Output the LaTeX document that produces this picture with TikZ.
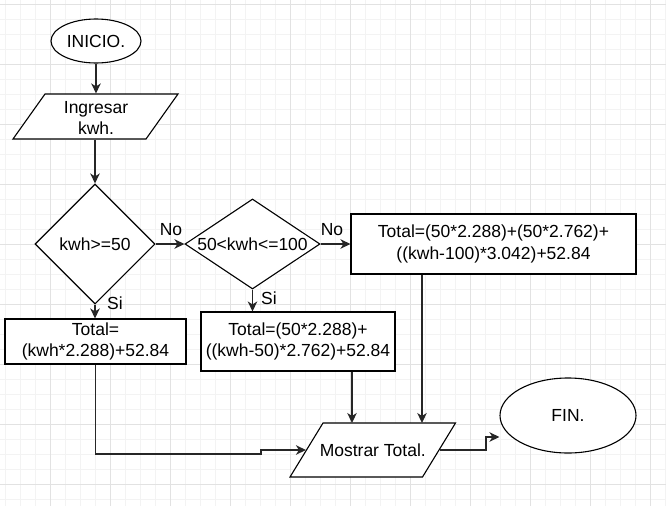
\documentclass[tikz,border=0pt]{standalone}
\usepackage{fontspec}
\setmainfont{Liberation Sans}
\usepackage{tikz}
\usetikzlibrary{calc,arrows.meta,positioning,shapes.geometric}
\definecolor{gridmajor}{RGB}{226,226,226}
\definecolor{gridminor}{RGB}{243,243,243}
\definecolor{flowline}{RGB}{38,38,38}
\newcommand{\flowfont}{\fontsize{17.5}{21.5}\selectfont}
\tikzset{
  fterm/.style ={ellipse, draw=black, fill=white, line width=1.1pt, inner sep=0pt, font=\flowfont},
  fio/.style   ={rectangle, draw=black, fill=white, line width=1.1pt, inner sep=0pt,
                 xslant=#1, transform shape},
  fiotext/.style={inner sep=0pt, font=\flowfont, align=center},
  fdec/.style  ={diamond, draw=black, fill=white, line width=1.1pt, inner sep=0pt, font=\flowfont},
  fproc/.style ={rectangle, draw=black, fill=white, line width=1.1pt, inner sep=2pt,
                 font=\flowfont, align=center},
  fline/.style ={-{Stealth[length=10pt, width=9.5pt, inset=3pt]}, line width=1.3pt, flowline},
  flabel/.style={font=\flowfont, inner sep=0pt},
}
\begin{document}
\begin{tikzpicture}[x=1pt, y=-1pt]
  \useasboundingbox (0,0) rectangle (666,506);
  % grid paper
  \foreach \gx in {5,20,...,665} \draw[gridminor, line width=0.8pt] (\gx,0) -- (\gx,506);
  \foreach \gy in {4,19,...,506} \draw[gridminor, line width=0.8pt] (0,\gy) -- (666,\gy);
  \foreach \gx in {50,110,...,650} \draw[gridmajor, line width=0.9pt] (\gx,0) -- (\gx,506);
  \foreach \gy in {4,64,...,484} \draw[gridmajor, line width=0.9pt] (0,\gy) -- (666,\gy);

  \node[fterm, minimum width=90, minimum height=44] (ini) at (96,41) {INICIO.};
  \node[fio=0.711, minimum width=133, minimum height=45] (ing) at (95.5,116.5) {};
  \node[fiotext] (ingt) at (96,118) {Ingresar\\ kwh.};
  \node[fdec, minimum width=120, minimum height=120] (d1) at (95,244) {kwh>=50};
  \node[fdec, aspect=1.5, minimum width=135, minimum height=90] (d2) at (252.5,244) {50<kwh<=100};
  \node[fproc, minimum width=181, minimum height=45] (b1) at (95.5,341.5)
    {Total=\\(kwh*2.288)+52.84};
  \node[fproc, minimum width=194, minimum height=59] (b2) at (298,341.5)
    {Total=(50*2.288)+\\((kwh-50)*2.762)+52.84};
  \node[fproc, minimum width=285, minimum height=60] (b3) at (493.5,244)
    {Total=(50*2.288)+(50*2.762)+\\((kwh-100)*3.042)+52.84};
  \node[fio=0.611, minimum width=132.5, minimum height=54] (mos) at (372.75,450) {};
  \node[fiotext] (most) at (mos) {Mostrar Total.};
  \node[fterm, minimum width=136, minimum height=75] (fin) at (568,415.5) {FIN.};

  \node[flabel] (no1) at (171,230) {No};
  \node[flabel] (no2) at (332,230) {No};
  \node[flabel] (si1) at (115,303) {Si};
  \node[flabel] (si2) at (269,298) {Si};

  \coordinate (t2) at (352,423);
  \coordinate (t3) at (422,423);
  \coordinate (j1) at (261,454);
  \coordinate (j2) at (486,437);

  \draw[fline] (ini.south) -- (ini.south |- ing.north);
  \draw[fline] (d1.north |- ing.south) -- (d1.north);
  \draw[fline] (d1.east) -- (d2.west);
  \draw[fline] (d2.east) -- (b3.west);
  \draw[fline] (d1.south) -- (d1.south |- b1.north);
  \draw[fline] (d2.south) -- (d2.south |- b2.north);
  \draw[fline] (b2.south -| t2) -- (t2);
  \draw[fline] (b3.south -| t3) -- (t3);
  \draw[fline] (b1.south) |- (j1) |- (mos.west);
  \draw[fline] (mos.east) -| (j2) -- (j2 -| fin.west);
\end{tikzpicture}
\end{document}
